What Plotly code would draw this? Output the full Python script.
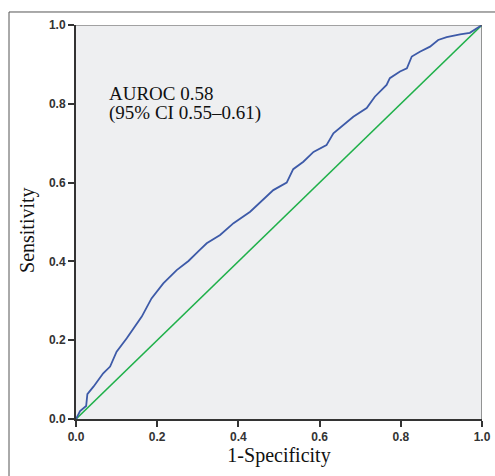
import plotly.graph_objects as go

# ROC curve values
fpr = [0.0, 0.01, 0.025, 0.028, 0.043, 0.067, 0.084, 0.10, 0.125, 0.162, 0.186, 0.215,
       0.248, 0.277, 0.305, 0.322, 0.355, 0.388, 0.429, 0.461, 0.486, 0.519, 0.535,
       0.56, 0.585, 0.617, 0.634, 0.683, 0.716, 0.736, 0.765, 0.773, 0.798, 0.815,
       0.827, 0.847, 0.872, 0.892, 0.913, 0.946, 0.97, 1.0]
tpr = [0.0, 0.02, 0.033, 0.063, 0.082, 0.116, 0.133, 0.171, 0.205, 0.26, 0.306, 0.344,
       0.378, 0.401, 0.429, 0.446, 0.467, 0.497, 0.526, 0.556, 0.581, 0.60, 0.634,
       0.653, 0.678, 0.695, 0.725, 0.767, 0.789, 0.818, 0.848, 0.865, 0.882, 0.89,
       0.92, 0.932, 0.945, 0.962, 0.969, 0.976, 0.98, 1.0]
ref_x = [0.0, 1.0]
ref_y = [0.0, 1.0]
tick_vals = [0.0, 0.2, 0.4, 0.6, 0.8, 1.0]
tick_text = ["0.0", "0.2", "0.4", "0.6", "0.8", "1.0"]
label_line1 = "AUROC 0.58"
label_line2 = "(95% CI 0.55\u20130.61)"
x_title = "1-Specificity"
y_title = "Sensitivity"

fig = go.Figure()
fig.add_trace(go.Scatter(x=ref_x, y=ref_y, mode="lines",
                         line=dict(color="#1fb04a", width=1.6), showlegend=False))
fig.add_trace(go.Scatter(x=fpr, y=tpr, mode="lines",
                         line=dict(color="#3d5aa8", width=1.8), showlegend=False))

tickfont = dict(family="Liberation Sans, Arial", size=12, color="#333333")
serif = "Liberation Serif, Times New Roman"
titlefont = dict(family=serif, size=20, color="#111111")

fig.update_layout(
    width=495, height=476,
    margin=dict(l=76, r=13, t=25, b=57),
    paper_bgcolor="white", plot_bgcolor="#eeeff1",
    xaxis=dict(range=[0, 1], tickvals=tick_vals, ticktext=["<b>%s</b>" % t for t in tick_text],
               ticks="outside", ticklen=6, tickwidth=1.5, tickcolor="#333333",
               showgrid=False, zeroline=False, showline=True, linecolor="#333333", linewidth=2,
               tickfont=tickfont, automargin=False,
               title=dict(text=x_title, font=titlefont, standoff=5)),
    yaxis=dict(range=[0, 1], tickvals=tick_vals, ticktext=["<b>%s</b>" % t for t in tick_text],
               ticks="outside", ticklen=6, tickwidth=1.5, tickcolor="#333333",
               showgrid=False, zeroline=False, showline=True, linecolor="#333333", linewidth=2,
               tickfont=tickfont, automargin=False),
    shapes=[
        dict(type="line", xref="x", yref="y", x0=0, x1=1, y0=1, y1=1,
             line=dict(color="#555555", width=1)),
        dict(type="line", xref="x", yref="y", x0=1, x1=1, y0=0, y1=1,
             line=dict(color="#555555", width=1.2)),
        dict(type="rect", xref="paper", yref="paper", x0=-0.165, x1=1.2, y0=-0.3, y1=1.033,
             line=dict(color="#555555", width=1), layer="below"),
    ],
    annotations=[
        dict(x=0.076, y=0.827, xref="x", yref="y", text=label_line1, showarrow=False,
             xanchor="left", yanchor="middle",
             font=dict(family=serif, size=19, color="#111111")),
        dict(x=0.076, y=0.776, xref="x", yref="y", text=label_line2, showarrow=False,
             xanchor="left", yanchor="middle",
             font=dict(family=serif, size=19, color="#111111")),
        dict(x=-0.118, y=0.48, xref="paper", yref="paper", text=y_title, showarrow=False,
             textangle=-90, xanchor="center", yanchor="middle", font=titlefont),
    ],
)

fig.write_html("out.html", config={"displayModeBar": False},
               post_script="document.body.style.margin='0';")
